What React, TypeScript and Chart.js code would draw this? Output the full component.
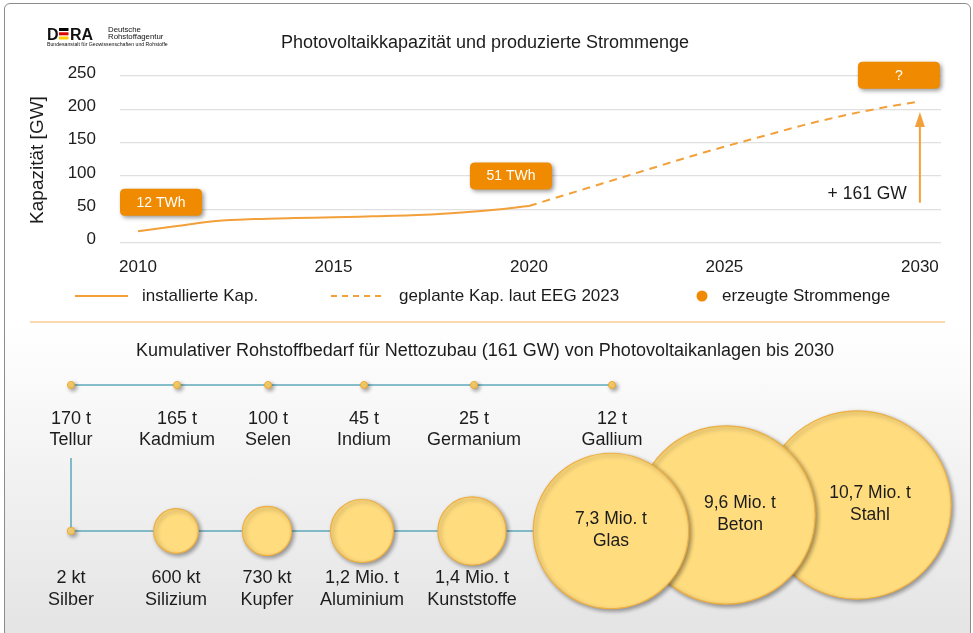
import React, { useEffect, useRef } from 'react';
import { Chart, registerables } from 'chart.js';

Chart.register(...registerables);

const FONT = '"Liberation Sans", Arial, Helvetica, sans-serif';
const TEXT = '#1c1c1c';
const LINE_ORANGE = '#f3a03a';
const BOX_ORANGE = '#f08a00';
const GRID = '#e0e0e0';
const TEAL = '#5ea8ba';
const BUBBLE_FILL = '#ffdc7e';
const BUBBLE_BORDER = '#eeae40';

// ---------- top chart data ----------
const installedYears = [2010, 2011, 2012, 2013, 2014, 2015, 2016, 2017, 2018, 2019, 2020];
const installedGW = [17, 25, 32.5, 35.5, 37, 38, 39.5, 41, 44, 48.5, 55];
const plannedYears = [2020, 2021, 2022, 2023, 2024, 2025, 2026, 2027, 2028, 2029, 2030];
const plannedGW = [55, 73, 91, 109, 127, 144, 160, 176, 190, 202, 212];
const energyYears = [2010, 2020, 2030];
const energyTWh: (number | null)[] = [12, 51, null];
const xTickYears = [2010, 2015, 2020, 2025, 2030];
const netAdditionGW = 161;

// ---------- bottom infographic data ----------
const traceNames = ['Tellur', 'Kadmium', 'Selen', 'Indium', 'Germanium', 'Gallium'];
const traceTonnes = [170, 165, 100, 45, 25, 12];
const traceLabels = ['170 t', '165 t', '100 t', '45 t', '25 t', '12 t'];
const bulkNames = ['Silber', 'Silizium', 'Kupfer', 'Aluminium', 'Kunststoffe', 'Glas', 'Beton', 'Stahl'];
const bulkKilotonnes = [2, 600, 730, 1200, 1400, 7300, 9600, 10700];
const bulkLabels = ['2 kt', '600 kt', '730 kt', '1,2 Mio. t', '1,4 Mio. t', '7,3 Mio. t', '9,6 Mio. t', '10,7 Mio. t'];

// ---------- layout (not data) ----------
const traceX = [71, 177, 268, 364, 474, 612];
const traceRowY = 385;
const bulkX = [71, 176, 267, 362, 472, 611, 726, 857];
const bulkY = [531, 531, 531, 531, 531, 531, 515, 505];
const bulkLabelDx = [0, 0, 0, 0, 0, 0, 14, 13];
const boxDx = [23, -18, -21];
const boxDy = [-29, -30, -26];
const arrowFromGW = 60;
const arrowToGW = 196;

const radiusFor = (kt: number) => Math.max(3.5, 0.91 * Math.sqrt(kt));

function rrect(ctx: CanvasRenderingContext2D, x: number, y: number, w: number, h: number, r: number) {
  ctx.beginPath();
  ctx.moveTo(x + r, y);
  ctx.lineTo(x + w - r, y);
  ctx.quadraticCurveTo(x + w, y, x + w, y + r);
  ctx.lineTo(x + w, y + h - r);
  ctx.quadraticCurveTo(x + w, y + h, x + w - r, y + h);
  ctx.lineTo(x + r, y + h);
  ctx.quadraticCurveTo(x, y + h, x, y + h - r);
  ctx.lineTo(x, y + r);
  ctx.quadraticCurveTo(x, y, x + r, y);
  ctx.closePath();
}

const topDecor = {
  id: 'topDecor',
  afterDraw(chart: any) {
    const ctx: CanvasRenderingContext2D = chart.ctx;
    const xs = chart.scales.x;
    const ys = chart.scales.y;
    ctx.save();

    // logo
    ctx.textAlign = 'left';
    ctx.textBaseline = 'alphabetic';
    ctx.fillStyle = '#111';
    ctx.font = `bold 16px ${FONT}`;
    ctx.fillText('D', 47, 39.5);
    ctx.fillStyle = '#000';
    ctx.fillRect(59, 28, 9.5, 3);
    ctx.fillStyle = '#dd0000';
    ctx.fillRect(59, 32.3, 9.5, 3);
    ctx.fillStyle = '#ffcc00';
    ctx.fillRect(59, 36.5, 9.5, 3);
    ctx.fillStyle = '#111';
    ctx.fillText('RA', 70, 39.5);
    ctx.font = `7.8px ${FONT}`;
    ctx.fillText('Deutsche', 108, 31.5);
    ctx.fillText('Rohstoffagentur', 108, 38.5);
    ctx.font = `5.2px ${FONT}`;
    ctx.fillText('Bundesanstalt für Geowissenschaften und Rohstoffe', 47, 46);

    // title
    ctx.fillStyle = TEXT;
    ctx.textAlign = 'center';
    ctx.textBaseline = 'middle';
    ctx.font = `18px ${FONT}`;
    ctx.fillText('Photovoltaikkapazität und produzierte Strommenge', 485, 43);

    // y title
    ctx.save();
    ctx.translate(38, 160);
    ctx.rotate(-Math.PI / 2);
    ctx.font = `19px ${FONT}`;
    ctx.fillText('Kapazität [GW]', 0, 0);
    ctx.restore();

    // arrow
    const ax = xs.getPixelForValue(plannedYears[plannedYears.length - 1]);
    const yTip = ys.getPixelForValue(arrowToGW);
    const yBase = ys.getPixelForValue(arrowFromGW);
    ctx.strokeStyle = LINE_ORANGE;
    ctx.fillStyle = LINE_ORANGE;
    ctx.lineWidth = 2;
    ctx.beginPath();
    ctx.moveTo(ax, yBase);
    ctx.lineTo(ax, yTip + 12);
    ctx.stroke();
    ctx.beginPath();
    ctx.moveTo(ax, yTip);
    ctx.lineTo(ax - 5, yTip + 15);
    ctx.lineTo(ax + 5, yTip + 15);
    ctx.closePath();
    ctx.fill();
    ctx.fillStyle = TEXT;
    ctx.textAlign = 'right';
    ctx.font = `17.5px ${FONT}`;
    ctx.fillText(`+ ${netAdditionGW} GW`, ax - 13, ys.getPixelForValue(73));

    // energy boxes
    const meta = chart.getDatasetMeta(2);
    meta.data.forEach((pt: any, i: number) => {
      const cx = pt.x + boxDx[i];
      const cy = pt.y + boxDy[i];
      const w = 82, h = 27;
      ctx.save();
      ctx.shadowColor = 'rgba(0,0,0,0.4)';
      ctx.shadowBlur = 4;
      ctx.shadowOffsetX = 2;
      ctx.shadowOffsetY = 2;
      ctx.fillStyle = BOX_ORANGE;
      rrect(ctx, cx - w / 2, cy - h / 2, w, h, 5);
      ctx.fill();
      ctx.restore();
      const v = energyTWh[i];
      ctx.fillStyle = '#ffffff';
      ctx.textAlign = 'center';
      ctx.textBaseline = 'middle';
      ctx.font = `14px ${FONT}`;
      ctx.fillText(v == null ? '?' : `${v} TWh`, cx, cy + 0.5);
    });

    // legend
    const ds = chart.data.datasets;
    const ly = 296;
    ctx.font = `17px ${FONT}`;
    ctx.textAlign = 'left';
    ctx.textBaseline = 'middle';
    ctx.lineWidth = 2;
    ctx.strokeStyle = ds[0].borderColor;
    ctx.beginPath();
    ctx.moveTo(75, ly);
    ctx.lineTo(128, ly);
    ctx.stroke();
    ctx.fillStyle = TEXT;
    ctx.fillText(ds[0].label, 142, ly);
    ctx.strokeStyle = ds[1].borderColor;
    ctx.setLineDash([6, 5]);
    ctx.beginPath();
    ctx.moveTo(331, ly);
    ctx.lineTo(386, ly);
    ctx.stroke();
    ctx.setLineDash([]);
    ctx.fillText(ds[1].label, 399, ly);
    ctx.fillStyle = ds[2].backgroundColor;
    ctx.beginPath();
    ctx.arc(702, ly, 5.5, 0, Math.PI * 2);
    ctx.fill();
    ctx.fillStyle = TEXT;
    ctx.fillText(ds[2].label, 722, ly);

    // separator
    ctx.strokeStyle = '#fbd8b0';
    ctx.lineWidth = 2;
    ctx.beginPath();
    ctx.moveTo(30, 322);
    ctx.lineTo(945, 322);
    ctx.stroke();

    ctx.restore();
  },
};

const bottomDecor = {
  id: 'bottomDecor',
  beforeDatasetDraw(chart: any, args: any) {
    const ctx: CanvasRenderingContext2D = chart.ctx;
    ctx.save();
    if (args.meta.type === 'bubble') {
      ctx.shadowColor = 'rgba(0,0,0,0.38)';
      ctx.shadowBlur = 4;
      ctx.shadowOffsetX = 2;
      ctx.shadowOffsetY = 2;
    }
  },
  afterDatasetDraw(chart: any) {
    chart.ctx.restore();
  },
  afterDraw(chart: any) {
    const ctx: CanvasRenderingContext2D = chart.ctx;
    ctx.save();
    ctx.fillStyle = TEXT;
    ctx.textAlign = 'center';
    ctx.textBaseline = 'middle';
    ctx.font = `18px ${FONT}`;
    ctx.fillText('Kumulativer Rohstoffbedarf für Nettozubau (161 GW) von Photovoltaikanlagen bis 2030', 485, 21);

    chart.data.datasets.forEach((ds: any, di: number) => {
      const meta = chart.getDatasetMeta(di);
      if (meta.type !== 'bubble') return;
      meta.data.forEach((el: any, i: number) => {
        const d = ds.data[i];
        if (d.inside) {
          ctx.font = `17.5px ${FONT}`;
          ctx.fillText(d.amount, el.x + d.dx, el.y - 12);
          ctx.fillText(d.name, el.x + d.dx, el.y + 10);
        } else {
          ctx.font = `18px ${FONT}`;
          ctx.fillText(d.amount, el.x, el.y + ds.labelGap[0]);
          ctx.fillText(d.name, el.x, el.y + ds.labelGap[1]);
        }
      });
    });
    ctx.restore();
  },
};

export default function App() {
  const topRef = useRef<HTMLCanvasElement>(null);
  const botRef = useRef<HTMLCanvasElement>(null);

  useEffect(() => {
    const tickFont = { family: FONT, size: 17 };
    const top = new Chart(topRef.current as HTMLCanvasElement, {
      type: 'line',
      data: {
        datasets: [
          {
            label: 'installierte Kap.',
            data: installedYears.map((x, i) => ({ x, y: installedGW[i] })),
            borderColor: LINE_ORANGE,
            borderWidth: 2,
            pointRadius: 0,
            cubicInterpolationMode: 'monotone',
          },
          {
            label: 'geplante Kap. laut EEG 2023',
            data: plannedYears.map((x, i) => ({ x, y: plannedGW[i] })),
            borderColor: LINE_ORANGE,
            borderWidth: 2,
            borderDash: [8, 6],
            pointRadius: 0,
            cubicInterpolationMode: 'monotone',
          },
          {
            label: 'erzeugte Strommenge',
            data: energyYears.map((x) => {
              const idx = installedYears.indexOf(x);
              const y = idx >= 0 ? installedGW[idx] : plannedGW[plannedYears.indexOf(x)];
              return { x, y };
            }),
            showLine: false,
            pointRadius: 0,
            backgroundColor: BOX_ORANGE,
            borderColor: BOX_ORANGE,
          },
        ],
      } as any,
      options: {
        responsive: false,
        animation: false,
        events: [],
        layout: { autoPadding: false, padding: { left: 0, right: 32, top: 76, bottom: 57.3 } },
        plugins: { legend: { display: false }, tooltip: { enabled: false }, title: { display: false } },
        scales: {
          x: {
            type: 'linear',
            min: 2009.54,
            max: 2030.54,
            afterBuildTicks: (s: any) => {
              s.ticks = xTickYears.map((v) => ({ value: v }));
            },
            afterFit: (s: any) => {
              s.height = 30;
            },
            grid: { display: false },
            border: { display: false },
            ticks: { font: tickFont, color: TEXT, padding: 6, callback: (v: any) => String(v), maxRotation: 0 },
          },
          y: {
            min: 0,
            max: 250,
            afterFit: (s: any) => {
              s.width = 120;
            },
            grid: { color: GRID, drawTicks: false, lineWidth: 1.2 },
            border: { display: false },
            ticks: { stepSize: 50, font: tickFont, color: TEXT, padding: 24, labelOffset: -3 },
          },
        },
      } as any,
      plugins: [topDecor],
    });

    const traceData = traceTonnes.map((t, i) => ({
      x: traceX[i],
      y: traceRowY,
      r: radiusFor(t / 1000),
      name: traceNames[i],
      amount: traceLabels[i],
      inside: false,
      dx: 0,
    }));
    const bulkData = bulkKilotonnes
      .map((kt, i) => ({
        x: bulkX[i],
        y: bulkY[i],
        r: radiusFor(kt),
        name: bulkNames[i],
        amount: bulkLabels[i],
        inside: radiusFor(kt) > 60,
        dx: bulkLabelDx[i],
      }))
      .reverse();

    const bottom = new Chart(botRef.current as HTMLCanvasElement, {
      type: 'bubble',
      data: {
        datasets: [
          {
            type: 'line',
            label: 'Verbindung Spurenmetalle',
            data: [
              { x: traceX[0], y: traceRowY },
              { x: traceX[traceX.length - 1], y: traceRowY },
            ],
            borderColor: TEAL,
            borderWidth: 1.5,
            pointRadius: 0,
            order: 2,
            clip: false,
          },
          {
            type: 'line',
            label: 'Verbindung Massenrohstoffe',
            data: [
              { x: bulkX[0], y: 458 },
              { x: bulkX[0], y: bulkY[0] },
              { x: bulkX[5], y: bulkY[0] },
            ],
            borderColor: TEAL,
            borderWidth: 1.5,
            pointRadius: 0,
            order: 2,
            clip: false,
          },
          {
            label: 'Spurenmetalle',
            data: traceData,
            backgroundColor: '#fdd56e',
            borderColor: '#eea52c',
            borderWidth: 1,
            order: 1,
            clip: false,
            labelGap: [34, 55],
          },
          {
            label: 'Massenrohstoffe',
            data: bulkData,
            backgroundColor: BUBBLE_FILL,
            borderColor: BUBBLE_BORDER,
            borderWidth: 1.2,
            order: 1,
            clip: false,
            labelGap: [47, 69],
          },
        ],
      } as any,
      options: {
        responsive: false,
        animation: false,
        events: [],
        layout: { autoPadding: false, padding: 0 },
        plugins: { legend: { display: false }, tooltip: { enabled: false } },
        scales: {
          x: { type: 'linear', min: 0, max: 973, display: false },
          y: { type: 'linear', min: 330, max: 633, reverse: true, display: false },
        },
      } as any,
      plugins: [bottomDecor],
    });

    return () => {
      top.destroy();
      bottom.destroy();
    };
  }, []);

  return (
    <div style={{ position: 'absolute', left: 0, top: 0, width: 973, height: 633, overflow: 'hidden', background: '#ffffff' }}>
      <div
        style={{
          position: 'absolute',
          left: 4,
          top: 3,
          width: 967,
          height: 660,
          boxSizing: 'border-box',
          border: '1.5px solid #8c8c8c',
          borderRadius: 6,
          background: 'linear-gradient(to bottom, #ffffff 0px, #ffffff 322px, #e4e4e4 630px)',
        }}
      />
      <canvas ref={topRef} width={973} height={330} style={{ position: 'absolute', left: 0, top: 0, width: 973, height: 330 }} />
      <canvas ref={botRef} width={973} height={303} style={{ position: 'absolute', left: 0, top: 330, width: 973, height: 303 }} />
    </div>
  );
}
